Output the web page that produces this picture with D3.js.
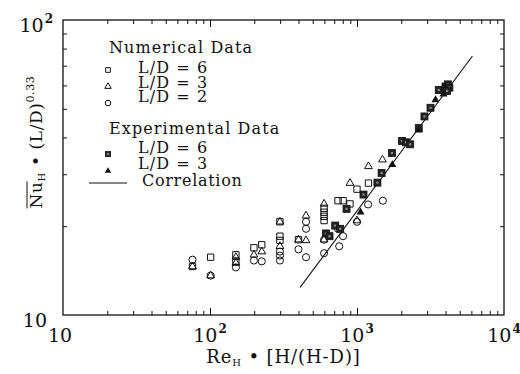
<!DOCTYPE html>
<html><head><meta charset="utf-8">
<script src="https://cdn.jsdelivr.net/npm/d3@7"></script>
<style>
body{margin:0;background:#fff}
svg{display:block}
text{font-family:"DejaVu Serif",serif;fill:#111}
</style>
</head><body><svg id="chart" width="520" height="374"></svg>
<script>
// Numerical data: [Re_H·H/(H-D), Nu_H·(L/D)^0.33]
const numericalLD6 = [
  [76,14.6],[101,15.7],[150,16.0],[150,15.2],[199,16.9],[225,17.3],
  [299,20.7],[299,18.5],[299,17.9],[400,18.0],
  [597,23.0],[597,22.3],[597,21.6],[597,20.9],
  [743,24.4],[804,24.4],[896,23.8],[1000,26.7],[1197,28.0]
];
const numericalLD3 = [
  [76,14.6],[101,13.6],[150,15.7],[150,15.0],[199,16.0],[225,16.4],
  [299,20.7],[299,17.1],[400,18.0],[450,17.9],[450,21.7],
  [597,23.8],[597,18.0],[896,28.0],[1000,20.9],[1197,31.9],[1490,33.6]
];
const numericalLD2 = [
  [76,15.4],[101,13.6],[150,14.5],[199,15.3],[225,15.2],
  [299,16.4],[299,15.9],[299,15.3],[400,16.7],[450,15.7],[450,20.7],[450,19.6],
  [597,16.2],[597,18.0],[743,19.6],[757,17.1],[804,18.5],[1000,20.7],
  [1190,23.7],[1500,24.4]
];
// Experimental data
const experimentalLD6 = [
  [615,18.9],[650,18.5],[711,20.1],[769,19.6],[849,22.9],[1107,25.6],
  [1377,28.1],[1470,30.3],[1729,35.4],[2023,38.9],[2155,38.5],[2300,37.9],
  [2631,43.0],[2876,47.1],[3162,50.4],[3600,57.9],
  [4000,59.5],[4150,60.5],[4250,59.0],[4100,57.5]
];
const experimentalLD3 = [
  [1057,22.3],[1738,32.3],[2631,42.3],[3420,53.6],[3874,56.1]
];
// Correlation line end points
const correlationRe = [410, 6100];
const correlationNu = [12.4, 75.5];

const xTickExponents = [1,2,3,4];
const yTickExponents = [1,2];
const legendNumerical = ["L/D = 6","L/D = 3","L/D = 2"];
const legendExperimental = ["L/D = 6","L/D = 3"];

const svg = d3.select("#chart");
const plotL = 63, plotR = 504, plotT = 20, plotB = 315;
const x = d3.scaleLog().domain([10, 1e4]).range([plotL, plotR]);
const y = d3.scaleLog().domain([10, 100]).range([plotB, plotT]);

// minor tick values per decade
function minorTicks(lo, hi) {
  const v = [];
  for (let d = lo; d < hi; d *= 10) for (let k = 2; k <= 9; k++) v.push(k * d);
  return v;
}
const xMinor = minorTicks(10, 1e4), xMajor = [100, 1000];
const yMinor = minorTicks(10, 100);

function addTicks(axis, values, size, tr) {
  const g = svg.append("g").attr("transform", tr)
    .call(axis.tickValues(values).tickSize(-size).tickSizeOuter(0).tickFormat(""));
  g.select(".domain").remove();
  g.selectAll("line").attr("stroke", "#111").attr("stroke-width", 1);
}
addTicks(d3.axisBottom(x), xMinor, 4, `translate(0,${plotB})`);
addTicks(d3.axisBottom(x), xMajor, 7, `translate(0,${plotB})`);
addTicks(d3.axisTop(x), xMinor, 4, `translate(0,${plotT})`);
addTicks(d3.axisTop(x), xMajor, 7, `translate(0,${plotT})`);
addTicks(d3.axisLeft(y), yMinor, 4, `translate(${plotL},0)`);
addTicks(d3.axisRight(y), yMinor, 4, `translate(${plotR},0)`);

// frame
svg.append("rect").attr("x", plotL).attr("y", plotT)
  .attr("width", plotR - plotL).attr("height", plotB - plotT)
  .attr("fill", "none").attr("stroke", "#111").attr("stroke-width", 1.3);

// tick labels 10^k
function powerLabel(g, k, px, py, anchor) {
  const t = g.append("text").attr("x", px).attr("y", py)
    .attr("text-anchor", anchor).style("font-size", "19px");
  t.append("tspan").text("10");
  if (k > 1) t.append("tspan").attr("dy", -9).attr("dx", 1)
    .style("font-size", "12px").style("font-weight", "bold").text(k);
  return t;
}
const labels = svg.append("g");
xTickExponents.forEach(k => {
  const px = x(Math.pow(10, k));
  powerLabel(labels, k, k > 1 ? px : px - 3, 342, "middle");
});
yTickExponents.forEach(k => {
  const py = y(Math.pow(10, k));
  powerLabel(labels, k, k > 1 ? 53 : 47, py + 12, "end");
});

// axis titles
const xt = svg.append("text").attr("x", (plotL + plotR) / 2).attr("y", 363)
  .attr("text-anchor", "middle").style("font-size", "18px").style("letter-spacing", "0.9px");
xt.append("tspan").text("Re");
xt.append("tspan").attr("dy", 3).style("font-size", "10px").text("H");
xt.append("tspan").attr("dy", -3).text(" \u2022 [H/(H-D)]");

const yg = svg.append("g").attr("transform", "translate(42,142) rotate(-90)");
const yt = yg.append("text").attr("x", 0).attr("y", 0)
  .attr("text-anchor", "middle").style("font-size", "17px").style("letter-spacing", "0.6px");
yt.append("tspan").text("Nu");
yt.append("tspan").attr("dy", 3).style("font-size", "10px").text("H");
yt.append("tspan").attr("dy", -3).text(" \u2022 (L/D)");
yt.append("tspan").attr("dy", -8).style("font-size", "11px").text("0.33");
{
  const n = yt.node();
  const x0 = n.getStartPositionOfChar(0).x, x1 = n.getEndPositionOfChar(1).x;
  yg.append("line").attr("x1", x0).attr("x2", x1).attr("y1", -15).attr("y2", -15)
    .attr("stroke", "#111").attr("stroke-width", 1);
}

// markers
const sym = (type, size) => d3.symbol().type(type).size(size)();
function drawOpen(data, type, size) {
  svg.append("g").selectAll("path").data(data).join("path")
    .attr("d", sym(type, size))
    .attr("transform", d => `translate(${x(d[0])},${y(d[1])})`)
    .attr("fill", "none").attr("stroke", "#111").attr("stroke-width", 1);
}
function filledSquare(sel, side) {
  sel.append("rect").attr("x", -side / 2).attr("y", -side / 2)
    .attr("width", side).attr("height", side)
    .attr("fill", "#222").attr("stroke", "#111").attr("stroke-width", 0.8);
  sel.append("rect").attr("x", -1.1).attr("y", -1.1).attr("width", 2.2).attr("height", 2.2)
    .attr("fill", "#8a8a8a");
}

// correlation
svg.append("line")
  .attr("x1", x(correlationRe[0])).attr("y1", y(correlationNu[0]))
  .attr("x2", x(correlationRe[1])).attr("y2", y(correlationNu[1]))
  .attr("stroke", "#111").attr("stroke-width", 1.1);

drawOpen(numericalLD2, d3.symbolCircle, 40);
drawOpen(numericalLD3, d3.symbolTriangle, 26);
drawOpen(numericalLD6, d3.symbolSquare, 40);
svg.append("g").selectAll("g").data(experimentalLD6).join("g")
  .attr("transform", d => `translate(${x(d[0])},${y(d[1])})`)
  .call(filledSquare, 7);
svg.append("g").selectAll("path").data(experimentalLD3).join("path")
  .attr("d", sym(d3.symbolTriangle, 28))
  .attr("transform", d => `translate(${x(d[0])},${y(d[1])})`)
  .attr("fill", "#111");

// legend
const lg = svg.append("g").style("font-size", "16px").style("letter-spacing", "1.1px");
lg.append("text").attr("x", 109).attr("y", 53).text("Numerical Data");
const openTypes = [d3.symbolSquare, d3.symbolTriangle, d3.symbolCircle];
const openSizes = [22, 18, 24];
legendNumerical.forEach((s, i) => {
  lg.append("text").attr("x", 138).attr("y", 73 + i * 14.5).text(s);
  lg.append("path").attr("d", sym(openTypes[i], openSizes[i]))
    .attr("transform", `translate(108,${70 + i * 16.5})`)
    .attr("fill", "none").attr("stroke", "#111").attr("stroke-width", 1);
});
lg.append("text").attr("x", 109).attr("y", 134).text("Experimental Data");
legendExperimental.forEach((s, i) => {
  lg.append("text").attr("x", 138).attr("y", 153 + i * 16).text(s);
});
lg.append("g").attr("transform", "translate(108,154)").call(filledSquare, 5);
lg.append("path").attr("d", sym(d3.symbolTriangle, 18))
  .attr("transform", "translate(108,171)").attr("fill", "#111");
lg.append("line").attr("x1", 89).attr("x2", 127).attr("y1", 183).attr("y2", 183)
  .attr("stroke", "#111").attr("stroke-width", 1);
lg.append("text").attr("x", 142).attr("y", 186).style("letter-spacing", "0.7px").text("Correlation");
</script>
</body></html>
